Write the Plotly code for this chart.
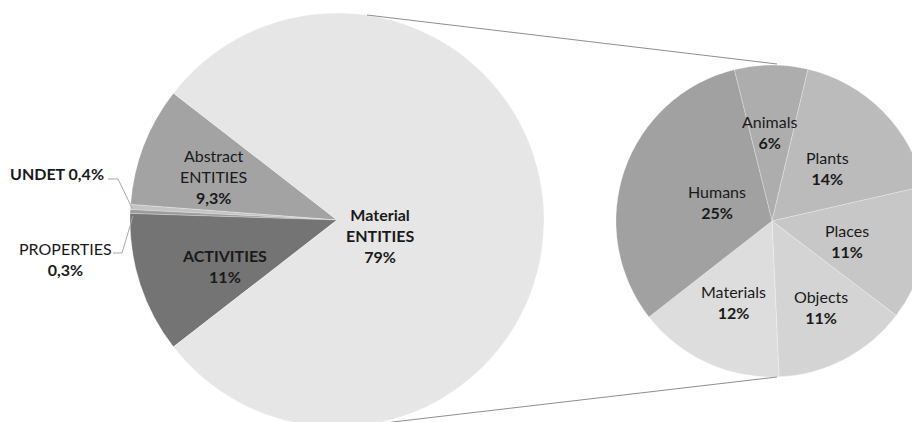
import plotly.graph_objects as go

# ---------------- data ----------------
big_labels = ["Abstract ENTITIES", "UNDET", "PROPERTIES", "ACTIVITIES", "Material ENTITIES"]
big_values = [9.3, 0.4, 0.3, 11, 79]
big_colors = ["#a3a3a3", "#c4c4c4", "#9c9c9c", "#747474", "#e6e6e6"]

small_labels = ["Animals", "Plants", "Places", "Objects", "Materials", "Humans"]
small_values = [6, 14, 11, 11, 12, 25]
small_colors = ["#adadad", "#bbbbbb", "#c7c7c7", "#d4d4d4", "#dddddd", "#a1a1a1"]


def pct(v):
    return f"{v:g}".replace(".", ",") + "%"


# ---------------- geometry (pixels, from top-left) ----------------
W, H = 930, 440
BIG_C, BIG_R = (337, 220), 207
SMALL_C, SMALL_R = (772, 221), 156


def px(x):
    return x / W


def py(y):
    return 1 - y / H


def domain(c, r):
    return dict(x=[px(c[0] - r), px(c[0] + r)], y=[py(c[1] + r), py(c[1] - r)])


# big pie: the split-off wedge (all but the last slice) is centred on 9 o'clock
total_big = sum(big_values)
wedge_deg = sum(big_values[:-1]) / total_big * 360
start_math = 180 - wedge_deg / 2                # clockwise-most edge of the wedge (math angle)
first_deg = big_values[0] / total_big * 360
big_rotation = 90 - start_math - first_deg      # plotly counterclockwise convention

FONT = "Lato"
TXT = "#1a1a1a"

fig = go.Figure()
fig.add_trace(go.Pie(
    labels=big_labels, values=big_values, sort=False,
    direction="counterclockwise", rotation=big_rotation,
    marker=dict(colors=big_colors, line=dict(color="rgba(255,255,255,0.5)", width=0.5)),
    textinfo="none", hoverinfo="skip", showlegend=False,
    domain=domain(BIG_C, BIG_R),
))
fig.add_trace(go.Pie(
    labels=small_labels, values=small_values, sort=False,
    direction="clockwise", rotation=-14,
    marker=dict(colors=small_colors, line=dict(color="rgba(255,255,255,0.5)", width=0.5)),
    textinfo="none", hoverinfo="skip", showlegend=False,
    domain=domain(SMALL_C, SMALL_R),
))

# ---------------- labels ----------------
def lab(text, x, y, xanchor="center", align="center"):
    fig.add_annotation(
        text=text, x=px(x), y=py(y), xref="paper", yref="paper",
        xanchor=xanchor, yanchor="middle", align=align, showarrow=False,
        font=dict(family=FONT, size=16, color=TXT),
    )

d = dict(zip(big_labels, big_values))
lab(f"Abstract<br>ENTITIES<br><b>{pct(d['Abstract ENTITIES'])}</b>", 213, 176.5)
lab(f"<b>ACTIVITIES<br>{pct(d['ACTIVITIES'])}</b>", 224, 266)
lab(f"<b>Material<br>ENTITIES<br>{pct(d['Material ENTITIES'])}</b>", 380, 235.5)
lab(f"<b>UNDET {pct(d['UNDET'])}</b>", 106, 173, xanchor="right")
lab(f"PROPERTIES<br><b>{pct(d['PROPERTIES'])}</b>", 65, 259)

small_pos = {
    "Animals": (769, 132), "Plants": (827, 168), "Places": (847, 241),
    "Objects": (821, 306.5), "Materials": (733, 302), "Humans": (717, 201.5),
}
for name, val in zip(small_labels, small_values):
    x, y = small_pos[name]
    lab(f"{name}<br><b>{pct(val)}</b>", x, y)

# ---------------- connector / leader lines ----------------
def seg(pts, color="#8f8f8f", width=1):
    path = "M " + " L ".join(f"{px(a)},{py(b)}" for a, b in pts)
    fig.add_shape(type="path", path=path, xref="paper", yref="paper",
                  line=dict(color=color, width=width))

seg([(367, 15), (777, 64)])
seg([(367, 425), (777, 377)])
seg([(108, 179), (118, 179), (132, 208)], color="#a8a8a8")
seg([(113, 253), (122, 253), (133, 216)], color="#a8a8a8")

fig.update_layout(
    width=W, height=H, margin=dict(l=0, r=0, t=0, b=0),
    paper_bgcolor="white", plot_bgcolor="white",
)

fig.write_html(
    "out.html",
    config={"displayModeBar": False},
    post_script="document.body.style.margin='0';document.body.style.overflow='hidden';",
)
